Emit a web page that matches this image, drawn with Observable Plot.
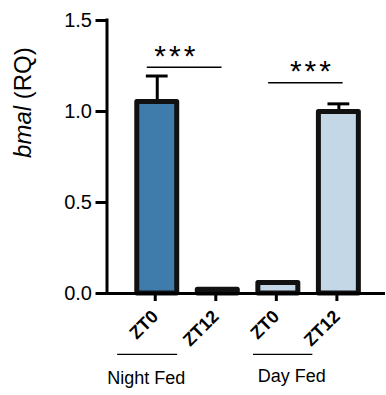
<!DOCTYPE html>
<html>
<head>
<meta charset="utf-8">
<script src="https://cdn.jsdelivr.net/npm/d3@7"></script>
<script src="https://cdn.jsdelivr.net/npm/@observablehq/plot@0.6"></script>
<style>
  html, body { margin: 0; padding: 0; background: #fff; }
  #chart { width: 386px; height: 395px; }
</style>
</head>
<body>
<div id="chart"></div>
<script>
// ---- data ----
const groups = ["Night Fed", "Night Fed", "Day Fed", "Day Fed"];
const timepoints = ["ZT0", "ZT12", "ZT0", "ZT12"];
const means = [1.052, 0.02, 0.058, 0.997];
const sems = [0.143, 0.005, 0.008, 0.045];
const yTicks = [0, 0.5, 1.0, 1.5];
const groupNames = ["Night Fed", "Day Fed"];
const groupColors = ["#3f7bab", "#c4d7e6"];
const sigLabels = ["***", "***"];
const sigHeights = [1.243, 1.158];
const yLabel = "bmal (RQ)";

// ---- layout (positions in x-index / y units) ----
const xDomain = [-0.83, 3.77];
const halfBar = 0.33;
const capHalf = 0.18;
const sigLines = [{x1: -0.165, x2: 1.07, tx: 0.29}, {x1: 1.84, x2: 3.07, tx: 2.53}];
const groupLayout = [{x1: -0.654, x2: 0.337, tx: -0.18, ty: -0.468}, {x1: 1.59, x2: 2.57, tx: 2.22, ty: -0.452}];
const groupLineY = -0.335;
const starOffset = 0.1;

const bars = means.map((m, i) => ({
  i, group: groups[i], tp: timepoints[i], mean: m, sem: sems[i],
  fill: groupColors[groupNames.indexOf(groups[i])]
}));
const sig = sigLabels.map((s, k) => ({label: s, y: sigHeights[k], ...sigLines[k]}));
const grp = groupNames.map((g, k) => ({name: g, ...groupLayout[k]}));

const plot = Plot.plot({
  width: 386,
  height: 395,
  marginLeft: 106.5,
  marginRight: 1,
  marginTop: 20,
  marginBottom: 102,
  style: {fontFamily: "'Liberation Sans', Arial, Helvetica, sans-serif", color: "#000", background: "#fff"},
  x: {type: "linear", domain: xDomain, axis: null},
  y: {domain: [0, 1.5], axis: null},
  marks: [
    // error bars
    Plot.ruleX(bars, {x: "i", y1: "mean", y2: d => d.mean + d.sem, stroke: "#000", strokeWidth: 3}),
    Plot.ruleY(bars, {x1: d => d.i - capHalf, x2: d => d.i + capHalf, y: d => d.mean + d.sem, stroke: "#000", strokeWidth: 3}),
    // bars
    Plot.rectY(bars, {x1: d => d.i - halfBar, x2: d => d.i + halfBar, y1: 0, y2: "mean", fill: "fill", stroke: "#111", strokeWidth: 5, strokeLinejoin: "round"}),
    // axes
    Plot.ruleY([0], {stroke: "#000", strokeWidth: 3}),
    Plot.ruleX([xDomain[0]], {y1: 0, y2: 1.5, stroke: "#000", strokeWidth: 3, strokeLinecap: "square"}),
    Plot.axisY({ticks: yTicks, tickFormat: d3.format(".1f"), tickSize: 11, strokeWidth: 3, tickPadding: 4, fontSize: 20, label: null, x: xDomain[0]}),
    Plot.axisX({ticks: [0, 1, 2, 3], tickFormat: i => timepoints[i], tickRotate: -45, tickSize: 8, strokeWidth: 3, fontSize: 18, fontWeight: "bold", label: null, tickPadding: 12, dx: -2}),
    // y label
    Plot.text([yLabel], {frameAnchor: "left", dx: -83.5, y: 0.745, rotate: -90, fontSize: 24, text: d => d, fill: "#000"}),
    // significance
    Plot.ruleY(sig, {x1: "x1", x2: "x2", y: "y", stroke: "#000", strokeWidth: 1.3}),
    Plot.text(sig, {x: "tx", y: d => d.y + starOffset, text: "label", fontSize: 30, fill: "#000", dy: 7}),
    // group labels
    Plot.ruleY(grp, {x1: "x1", x2: "x2", y: groupLineY, stroke: "#000", strokeWidth: 1.3}),
    Plot.text(grp, {x: "tx", y: "ty", text: "name", fontSize: 18, fill: "#000"})
  ]
});

// styling tweaks: italic gene name, spaced asterisks
d3.select(plot).selectAll("text").each(function() {
  const t = d3.select(this);
  if (t.text() === yLabel) {
    t.text("");
    t.append("tspan").attr("font-style", "italic").text("bmal");
    t.append("tspan").text(" (RQ)");
  } else if (t.text() === "***") {
    t.attr("letter-spacing", "3px").attr("dx", "1.5px");
  }
});

document.getElementById("chart").appendChild(plot);
</script>
</body>
</html>
